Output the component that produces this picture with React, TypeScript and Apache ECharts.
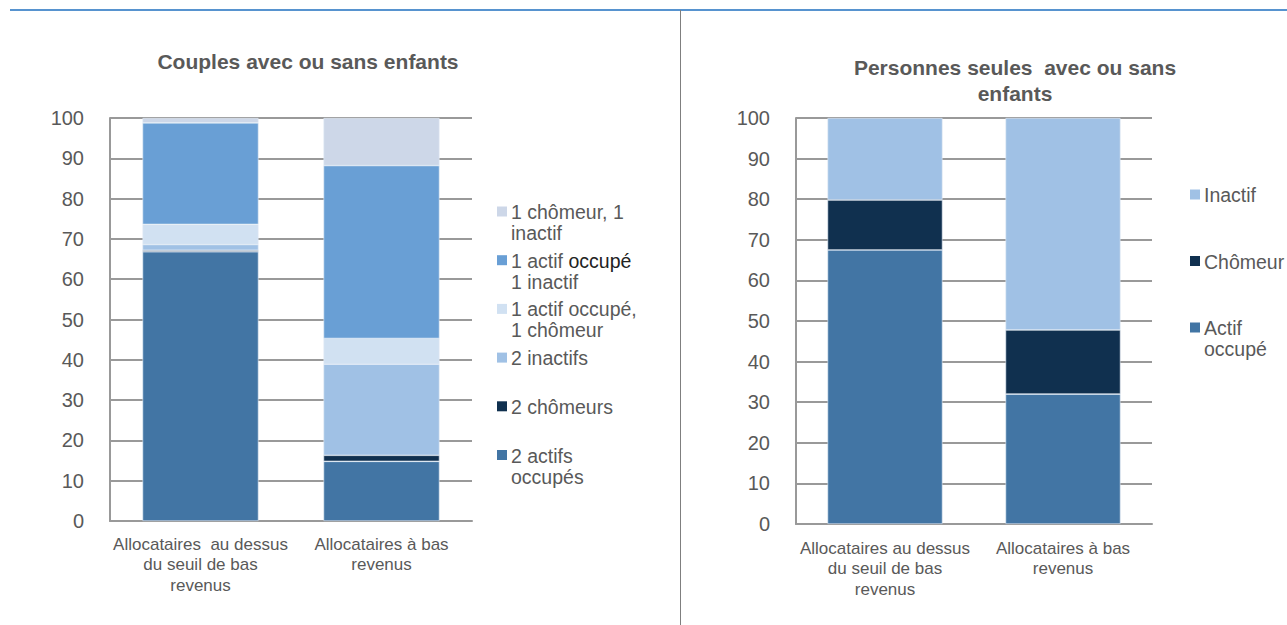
import React, { useEffect, useRef } from "react";
import * as echarts from "echarts";

const leftCategories = ["Allocataires  au dessus\ndu seuil de bas\nrevenus", "Allocataires à bas\nrevenus"];
const rightCategories = ["Allocataires au dessus\ndu seuil de bas\nrevenus", "Allocataires à bas\nrevenus"];

const leftNames = [
  "2 actifs occupés",
  "2 chômeurs",
  "2 inactifs",
  "1 actif occupé, 1 chômeur",
  "1 actif occupé, 1 inactif",
  "1 chômeur, 1 inactif",
];
const deuxActifs = [66.8, 14.8];
const deuxChomeurs = [0.4, 1.5];
const deuxInactifs = [1.4, 22.6];
const actifChomeur = [5.0, 6.4];
const actifInactif = [25.2, 42.9];
const chomeurInactif = [1.2, 11.8];
const leftValues = [deuxActifs, deuxChomeurs, deuxInactifs, actifChomeur, actifInactif, chomeurInactif];

const rightNames = ["Actif occupé", "Chômeur", "Inactif"];
const actifOccupe = [67.5, 32.0];
const chomeur = [12.3, 15.8];
const inactif = [20.2, 52.2];
const rightValues = [actifOccupe, chomeur, inactif];

const yTicks = [0, 10, 20, 30, 40, 50, 60, 70, 80, 90, 100];

// legend labels (top to bottom)
const leftLegendLabels = [
  "1 chômeur, 1\ninactif",
  "1 actif {d|occupé}\n1 inactif",
  "1 actif occupé,\n1 chômeur",
  "2 inactifs",
  "2 chômeurs",
  "2 actifs\noccupés",
];
const rightLegendLabels = ["Inactif", "Chômeur", "Actif\noccupé"];

const leftColors = ["#4275a4", "#10304f", "#a0c1e5", "#d1e1f2", "#699fd5", "#cdd7e8"];
const rightColors = ["#4275a4", "#10304f", "#a0c1e5"];

const FONT = "'Liberation Sans', Arial, sans-serif";
const TXT = "#595959";

export default function App() {
  const ref = useRef<HTMLDivElement>(null);
  useEffect(() => {
    document.body.style.margin = "0";
    const chart = echarts.init(ref.current!, null, { renderer: "svg" });

    const yAxisCommon = (gridIndex: number) => ({
      type: "value",
      gridIndex,
      min: 0,
      max: 100,
      interval: 10,
      axisLine: { show: true, lineStyle: { color: "#999999", width: 2 } },
      axisTick: { show: false },
      splitLine: { show: true, lineStyle: { color: "#999999", width: 2 } },
      axisLabel: {
        color: TXT,
        fontSize: 20,
        fontFamily: FONT,
        margin: 26,
        formatter: (v: number) => (yTicks.includes(v) ? String(v) : ""),
      },
    });

    const xAxisCommon = (gridIndex: number, data: string[], margin: number) => ({
      type: "category",
      gridIndex,
      data,
      axisLine: { show: true, lineStyle: { color: "#999999", width: 2 } },
      axisTick: { show: false },
      axisLabel: {
        color: TXT,
        fontSize: 17,
        fontFamily: FONT,
        lineHeight: 20.5,
        margin,
        interval: 0,
        align: "center",
      },
    });

    const series: any[] = [];
    leftNames.forEach((n, i) => {
      series.push({
        name: n,
        type: "bar",
        stack: "left",
        xAxisIndex: 0,
        yAxisIndex: 0,
        barWidth: 116,
        data: leftValues[i],
        itemStyle: { color: leftColors[i], borderColor: "#e3ebf5", borderWidth: 0.6 },
      });
    });
    rightNames.forEach((n, i) => {
      series.push({
        name: n,
        type: "bar",
        stack: "right",
        xAxisIndex: 1,
        yAxisIndex: 1,
        barWidth: 115,
        data: rightValues[i],
        itemStyle: { color: rightColors[i], borderColor: "#e3ebf5", borderWidth: 0.6 },
      });
    });

    const legendGraphics: any[] = [];
    const leftLegendColors = [...leftColors].reverse();
    leftLegendLabels.forEach((label, i) => {
      const cy = 212 + i * 48.7;
      legendGraphics.push({
        type: "rect",
        shape: { x: 497, y: cy - 5.5, width: 10, height: 10 },
        style: { fill: leftLegendColors[i] },
        silent: true,
      });
      legendGraphics.push({
        type: "text",
        x: 511,
        y: cy - 10.5,
        style: {
          text: label,
          fill: TXT,
          fontSize: 19.5,
          fontFamily: FONT,
          lineHeight: 21,
          verticalAlign: "top",
          rich: { d: { fill: "#222222", fontSize: 19.5, fontFamily: FONT, lineHeight: 21 } },
        },
        silent: true,
      });
    });
    const rightLegendColors = [...rightColors].reverse();
    rightLegendLabels.forEach((label, i) => {
      const cy = 195 + i * 66.5;
      legendGraphics.push({
        type: "rect",
        shape: { x: 1190, y: cy - 5.5, width: 10, height: 10 },
        style: { fill: rightLegendColors[i] },
        silent: true,
      });
      legendGraphics.push({
        type: "text",
        x: 1204,
        y: cy - 10.5,
        style: {
          text: label,
          fill: TXT,
          fontSize: 19.5,
          fontFamily: FONT,
          lineHeight: 21,
          verticalAlign: "top",
        },
        silent: true,
      });
    });

    chart.setOption({
      animation: false,
      backgroundColor: "#ffffff",
      title: [
        {
          text: "Couples avec ou sans enfants",
          left: 303,
          top: 46,
          textAlign: "center",
          textStyle: { color: TXT, fontSize: 21, fontWeight: "bold", fontFamily: FONT },
        },
        {
          text: "Personnes seules  avec ou sans\nenfants",
          left: 1010,
          top: 49,
          textAlign: "center",
          textStyle: { color: TXT, fontSize: 21, fontWeight: "bold", fontFamily: FONT, lineHeight: 26 },
        },
      ],
      grid: [
        { left: 110, top: 118, width: 362, height: 403 },
        { left: 796, top: 118, width: 356, height: 406 },
      ],
      xAxis: [xAxisCommon(0, leftCategories, 13), xAxisCommon(1, rightCategories, 14)],
      yAxis: [yAxisCommon(0), yAxisCommon(1)],
      series,
      graphic: [
        {
          type: "line",
          shape: { x1: 10, y1: 10, x2: 1287, y2: 10 },
          style: { stroke: "#1f6fbf", lineWidth: 1.5 },
          silent: true,
        },
        {
          type: "line",
          shape: { x1: 680.5, y1: 10, x2: 680.5, y2: 625 },
          style: { stroke: "#7f7f7f", lineWidth: 1 },
          silent: true,
        },
        ...legendGraphics,
      ],
    });
    return () => chart.dispose();
  }, []);
  return <div ref={ref} style={{ position: "absolute", left: 0, top: 0, width: 1287, height: 625 }} />;
}
